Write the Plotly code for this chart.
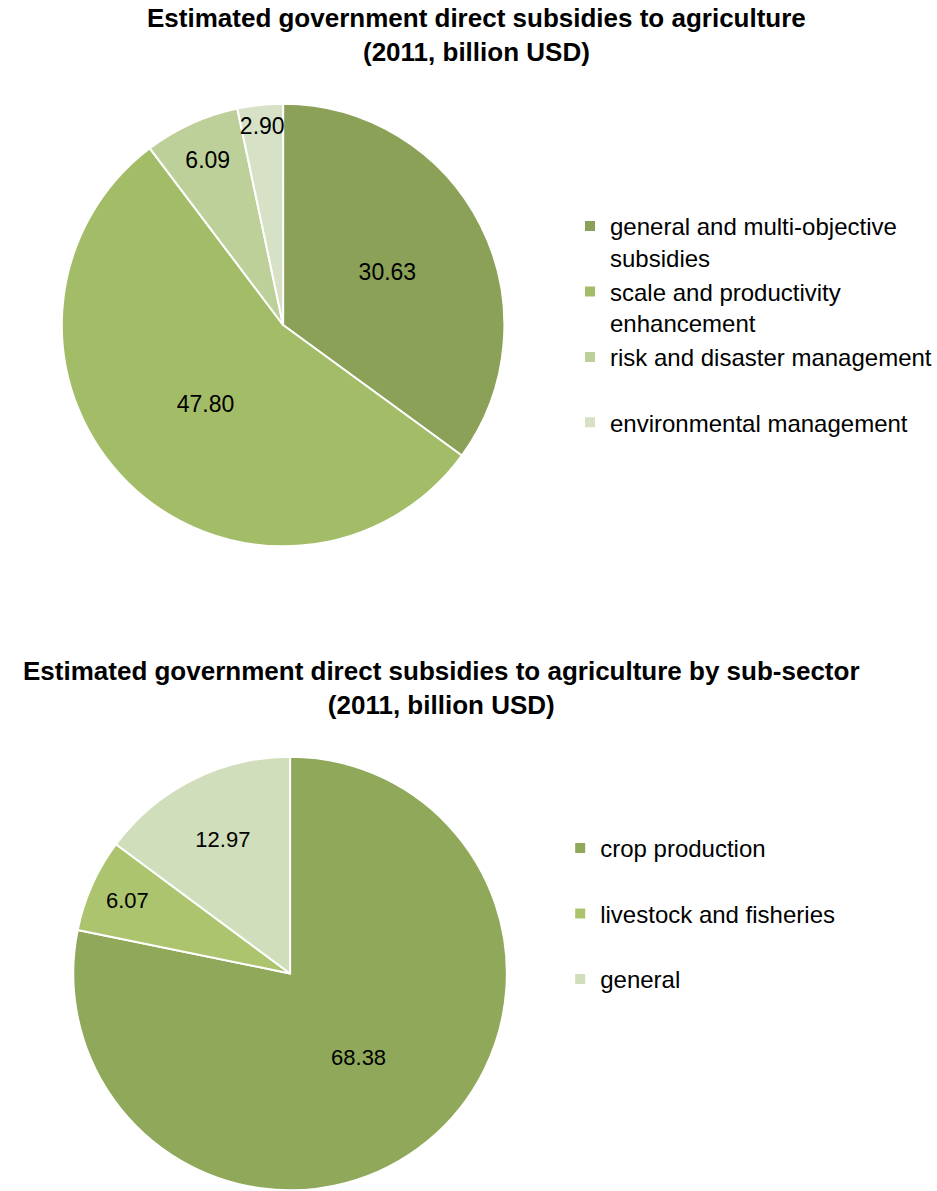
import plotly.graph_objects as go

W, H = 937, 1191

# Data
top_labels = ["general and multi-objective<br>subsidies", "scale and productivity<br>enhancement",
              "risk and disaster management<br> ", "environmental management<br> "]
top_values = [30.63, 47.80, 6.09, 2.90]
top_colors = ["#8BA157", "#A3BC68", "#BDD09A", "#D6E1C6"]

bot_labels = ["crop production<br> ", "livestock and fisheries<br> ", "general<br> "]
bot_values = [68.38, 6.07, 12.97]
bot_colors = ["#90A85A", "#ACC46E", "#D1DEBB"]

title1 = "<b>Estimated government direct subsidies to agriculture<br>(2011, billion USD)</b>"
title2 = "<b>Estimated government direct subsidies to agriculture by sub-sector<br>(2011, billion USD)</b>"

FONT = "Liberation Sans, Arial, sans-serif"

def px_dom(cx, cy, r):
    return dict(x=[(cx - r) / W, (cx + r) / W], y=[1 - (cy + r) / H, 1 - (cy - r) / H])

fig = go.Figure()
fig.add_trace(go.Pie(
    labels=top_labels, values=top_values, sort=False, direction="clockwise", rotation=0,
    marker=dict(colors=top_colors, line=dict(color="white", width=2)),
    texttemplate="%{value:.2f}", textposition="inside", insidetextorientation="horizontal",
    textfont=dict(size=23, color="black", family=FONT),
    domain=px_dom(284, 325, 222), legend="legend", hoverinfo="label+value",
))
bd = px_dom(291, 973.5, 217.5)
bd["y"] = [0, bd["y"][1]]
fig.add_trace(go.Pie(
    labels=bot_labels, values=bot_values, sort=False, direction="clockwise", rotation=0,
    marker=dict(colors=bot_colors, line=dict(color="white", width=2)),
    texttemplate="%{value:.2f}", textposition="inside", insidetextorientation="horizontal",
    textfont=dict(size=22, color="black", family=FONT),
    domain=bd, legend="legend2", hoverinfo="label+value",
))

fig.update_layout(
    width=W, height=H, margin=dict(l=0, r=0, t=0, b=0),
    paper_bgcolor="white", plot_bgcolor="white",
    font=dict(family=FONT, color="black"),
    uniformtext=dict(minsize=22, mode="show"),
    legend=dict(x=572 / W, y=1 - 204 / H, xanchor="left", yanchor="top", valign="top",
                font=dict(size=24, color="black", family=FONT), itemwidth=30),
    legend2=dict(x=562 / W, y=1 - 826 / H, xanchor="left", yanchor="top", valign="top",
                 font=dict(size=24, color="black", family=FONT), itemwidth=30),
    annotations=[
        dict(text=title1, x=478 / W, y=1 - 35 / H, xref="paper", yref="paper", xanchor="center",
             yanchor="middle", showarrow=False, font=dict(size=26, color="black", family=FONT)),
        dict(text=title2, x=443 / W, y=1 - 687.5 / H, xref="paper", yref="paper", xanchor="center",
             yanchor="middle", showarrow=False, font=dict(size=26, color="black", family=FONT)),
    ],
)

fig.write_html("out.html")
